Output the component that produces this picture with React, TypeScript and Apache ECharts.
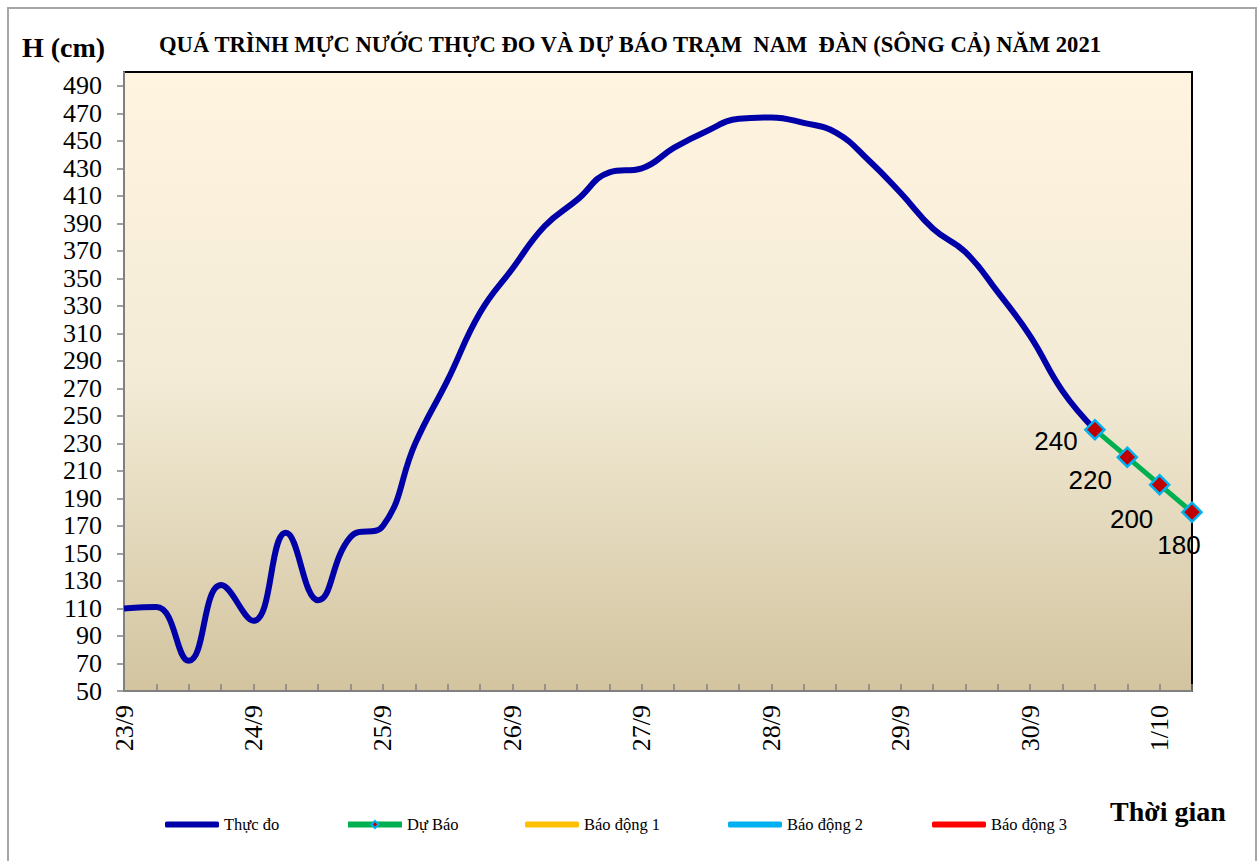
import React, { useEffect, useRef } from "react";
import * as echarts from "echarts";

const days = ["23/9", "24/9", "25/9", "26/9", "27/9", "28/9", "29/9", "30/9", "1/10"];
const hours = ["00h", "06h", "12h", "18h"];
const pointCount = 34;

// Observed water level (cm), every 6 hours from 23/9 00h
const observed = [
  110, 111, 72, 127, 101, 165, 116, 162, 170, 230, 276, 325, 357, 388, 407, 427,
  430, 445, 457, 466, 467, 463, 456, 436, 412, 386, 369, 340, 308, 268, 240,
];
// Forecast water level (cm), starting at index 30
const forecastStart = 30;
const forecast = [240, 220, 200, 180];

const yMin = 50;
const yMax = 500;
const yStep = 20;

const legendNames = ["Thực đo", "Dự Báo", "Báo động 1", "Báo động 2", "Báo động 3"];

const SERIF = '"Liberation Serif", "Times New Roman", serif';
const SANS = '"Liberation Sans", Arial, sans-serif';

export default function App() {
  const ref = useRef<HTMLDivElement>(null);

  useEffect(() => {
    if (!ref.current) return;
    const chart = echarts.init(ref.current, undefined, { renderer: "svg" });

    const categories: string[] = [];
    days.forEach((d) => hours.forEach((h) => categories.push(d + " " + h)));
    const cats = categories.slice(0, pointCount);

    const labelOffsets = [
      [-39, 11],
      [-37, 23],
      [-28, 34],
      [-13, 33],
    ];
    const forecastData: any[] = [];
    for (let i = 0; i < forecastStart; i++) forecastData.push(null);
    forecast.forEach((v, k) =>
      forecastData.push({ value: v, label: { offset: labelOffsets[k] } })
    );

    const legendLefts = [165, 345, 525, 728, 932];
    const legends = legendNames.map((name, k) => ({
      left: legendLefts[k],
      top: 816,
      padding: 0,
      itemWidth: 54,
      itemHeight: k === 1 ? 9 : 6,
      textStyle: { color: "#000", fontFamily: SERIF, fontSize: 16.5 },
      lineStyle: { width: 6 },
      data: [k === 1 ? { name, lineStyle: { width: 6 } } : { name, icon: "roundRect" }],
      selectedMode: false,
    }));

    const option: any = {
      animation: false,
      backgroundColor: "#ffffff",
      grid: {
        left: 124,
        right: 67,
        top: 72,
        bottom: 170,
        show: true,
        borderColor: "#000000",
        borderWidth: 2,
        backgroundColor: new echarts.graphic.LinearGradient(0, 0, 0, 1, [
          { offset: 0, color: "#FFF4E0" },
          { offset: 0.5, color: "#F3EBD6" },
          { offset: 1, color: "#D2C49F" },
        ]),
        outerBoundsMode: "none",
      },
      xAxis: {
        type: "category",
        data: cats,
        boundaryGap: false,
        axisLine: { lineStyle: { color: "#808080", width: 2 } },
        axisTick: {
          show: true,
          inside: true,
          length: 7,
          interval: 0,
          lineStyle: { color: "#808080", width: 1.5 },
        },
        axisLabel: {
          interval: 3,
          rotate: 90,
          margin: 14,
          color: "#000",
          fontFamily: SERIF,
          fontSize: 26,
          formatter: (v: string) => v.split(" ")[0],
        },
        splitLine: { show: false },
      },
      yAxis: {
        type: "value",
        min: yMin,
        max: yMax,
        interval: yStep,
        axisLine: { show: true, lineStyle: { color: "#808080", width: 2 } },
        axisTick: { show: true, length: 7, lineStyle: { color: "#808080", width: 1.5 } },
        axisLabel: {
          showMaxLabel: false,
          margin: 22,
          color: "#000",
          fontFamily: SERIF,
          fontSize: 26,
        },
        splitLine: { show: false },
      },
      legend: legends,
      series: [
        {
          name: legendNames[0],
          type: "line",
          data: observed,
          smooth: 0.45,
          showSymbol: false,
          symbol: "none",
          color: "#0000A8",
          lineStyle: { color: "#0000A8", width: 6 },
          z: 3,
        },
        {
          name: legendNames[1],
          type: "line",
          data: forecastData,
          symbol: "diamond",
          symbolSize: 19,
          color: "#00B050",
          itemStyle: { color: "#C00000", borderColor: "#00B0F0", borderWidth: 2.5 },
          lineStyle: { color: "#00B050", width: 5 },
          label: {
            show: true,
            position: "inside",
            color: "#000",
            fontFamily: SANS,
            fontSize: 26,
          },
          z: 4,
        },
        {
          name: legendNames[2],
          type: "line",
          data: [],
          color: "#FFC000",
          lineStyle: { color: "#FFC000", width: 5 },
        },
        {
          name: legendNames[3],
          type: "line",
          data: [],
          color: "#00B0F0",
          lineStyle: { color: "#00B0F0", width: 5 },
        },
        {
          name: legendNames[4],
          type: "line",
          data: [],
          color: "#FF0000",
          lineStyle: { color: "#FF0000", width: 5 },
        },
      ],
      graphic: [
        {
          type: "rect",
          shape: { x: 8, y: 8, width: 1248, height: 900 },
          style: { fill: "none", stroke: "#A6A6A6", lineWidth: 2 },
          silent: true,
          z: -1,
        },
        {
          type: "text",
          x: 630,
          y: 44,
          style: {
            text: "QUÁ TRÌNH MỰC NƯỚC THỰC ĐO VÀ DỰ BÁO TRẠM  NAM  ĐÀN (SÔNG CẢ) NĂM 2021",
            fontFamily: SERIF,
            fontWeight: "bold",
            fontSize: 22.6,
            fill: "#000",
            align: "center",
            verticalAlign: "middle",
          },
        },
        {
          type: "text",
          x: 22,
          y: 47,
          style: {
            text: "H (cm)",
            fontFamily: SERIF,
            fontWeight: "bold",
            fontSize: 28,
            fill: "#000",
            align: "left",
            verticalAlign: "middle",
          },
        },
        {
          type: "text",
          x: 1110,
          y: 811,
          style: {
            text: "Thời gian",
            fontFamily: SERIF,
            fontWeight: "bold",
            fontSize: 28,
            fill: "#000",
            align: "left",
            verticalAlign: "middle",
          },
        },
      ],
    };

    chart.setOption(option);
    return () => chart.dispose();
  }, []);

  return (
    <div
      ref={ref}
      style={{ position: "absolute", left: 0, top: 0, width: 1259, height: 861 }}
    />
  );
}
